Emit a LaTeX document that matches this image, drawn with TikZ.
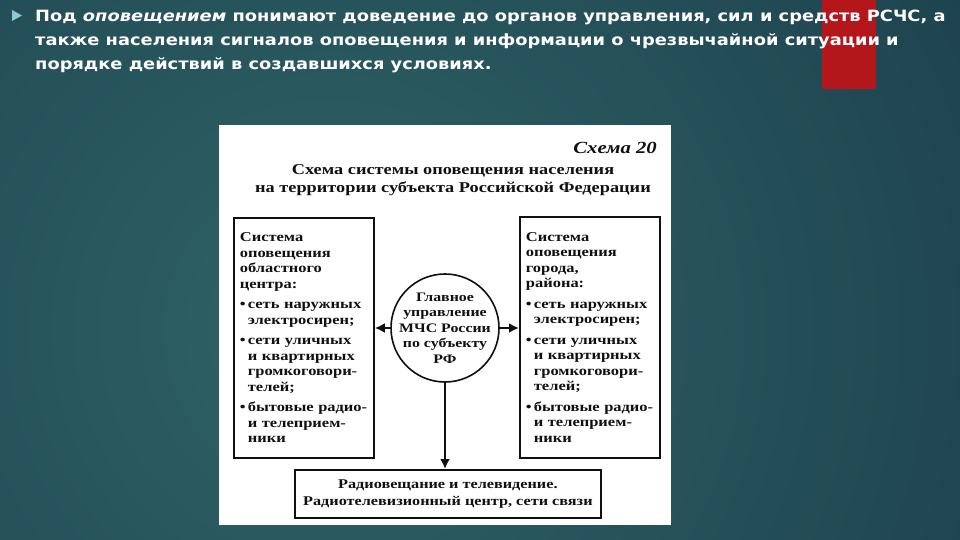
\documentclass[tikz,border=0pt]{standalone}
\usepackage{fontspec}
\usetikzlibrary{arrows.meta,shapes.geometric}
\newfontfamily\slidefont[FakeStretch=1.15]{DejaVu Sans}
\newfontfamily\schemefont[FakeStretch=1.22]{Liberation Serif}
\definecolor{slidedark}{HTML}{163443}
\definecolor{slidelight}{HTML}{2F6367}
\definecolor{accentred}{HTML}{B3171C}
\definecolor{bullettint}{HTML}{86CBD3}
\definecolor{inkblack}{HTML}{101010}

\begin{document}
\begin{tikzpicture}[x=1pt,y=-1pt,
    slidetext/.style={anchor=base west, inner sep=0pt, text=white, font=\slidefont\bfseries\fontsize{15.5}{18}\selectfont},
    sysbox/.style={draw=inkblack, line width=1.8pt, anchor=north west, align=left, text=inkblack,
        inner xsep=6pt, inner ysep=5pt, font=\schemefont\bfseries\fontsize{13.5}{15.5}\selectfont},
    hubcircle/.style={circle, draw=inkblack, line width=1.6pt, minimum size=108pt, inner sep=-8pt, align=center,
        text=inkblack, font=\schemefont\bfseries\fontsize{13}{15.5}\selectfont},
    flowarrow/.style={draw=inkblack, line width=2.4pt, -{Latex[length=10pt,width=10pt]}}]
    % Background
    \useasboundingbox (0,0) rectangle (960,540);
    \fill[slidedark] (0,0) rectangle (960,540);
    \begin{scope}
        \clip (0,0) rectangle (960,540);
        \shade[inner color=slidelight, outer color=slidedark] (330,330) circle (1050);
    \end{scope}
    \fill[accentred] (822,0) rectangle (876,89);

    % Slide text
    \fill[bullettint] (12,10) -- (22,15.5) -- (12,21) -- cycle;
    \node[slidetext] (line1) at (35,22) {Под {\itshape оповещением} понимают доведение до органов управления, сил и средств РСЧС, а};
    \node[slidetext] (line2) at (35,46) {также населения сигналов оповещения и информации о чрезвычайной ситуации и};
    \node[slidetext] (line3) at (35,70) {порядке действий в создавшихся условиях.};

    % Scheme sheet
    \fill[white] (219,125) rectangle (671,525);
    \node[anchor=base east, inner sep=0pt, text=inkblack, font=\schemefont\bfseries\itshape\fontsize{17}{18}\selectfont] (schemeno) at (657,154) {Схема 20};
    \node[anchor=north, align=center, inner sep=0pt, text=inkblack, font=\schemefont\bfseries\fontsize{15}{18.5}\selectfont] (schemetitle) at (453,164)
        {Схема системы оповещения населения\\на территории субъекта Российской Федерации};

    % === Region centre ===
    \node[sysbox, minimum width=140pt, minimum height=240pt, text width=128pt] (leftbox) at (233,217)
        {Система\\оповещения\\областного\\центра:\\[5pt]
         \makebox[8pt][l]{•}сеть наружных\\\hspace*{8pt}электросирен;\\[5pt]
         \makebox[8pt][l]{•}сети уличных\\\hspace*{8pt}и квартирных\\\hspace*{8pt}громкоговори-\\\hspace*{8pt}телей;\\[5pt]
         \makebox[8pt][l]{•}бытовые радио-\\\hspace*{8pt}и телеприем-\\\hspace*{8pt}ники};

    % === Town, district ===
    \node[sysbox, minimum width=140pt, minimum height=241pt, text width=128pt] (rightbox) at (519,216)
        {Система\\оповещения\\города,\\района:\\[5pt]
         \makebox[8pt][l]{•}сеть наружных\\\hspace*{8pt}электросирен;\\[5pt]
         \makebox[8pt][l]{•}сети уличных\\\hspace*{8pt}и квартирных\\\hspace*{8pt}громкоговори-\\\hspace*{8pt}телей;\\[5pt]
         \makebox[8pt][l]{•}бытовые радио-\\\hspace*{8pt}и телеприем-\\\hspace*{8pt}ники};

    % Main directorate
    \node[hubcircle] (hub) at (445,328) {Главное\\управление\\МЧС России\\по субъекту\\РФ};

    % Broadcasting
    \node[draw=inkblack, line width=1.8pt, anchor=north west, minimum width=306pt, minimum height=48pt, align=center, text=inkblack,
        font=\schemefont\bfseries\fontsize{13.3}{17}\selectfont] (radiobox) at (294,469)
        {Радиовещание и телевидение.\\Радиотелевизионный центр, сети связи};

    % Arrows
    \draw[flowarrow] (hub.west) -- (hub.west -| leftbox.east);
    \draw[flowarrow] (hub.east) -- (hub.east -| rightbox.west);
    \draw[flowarrow] (hub.south) -- (hub.south |- radiobox.north);
\end{tikzpicture}
\end{document}
